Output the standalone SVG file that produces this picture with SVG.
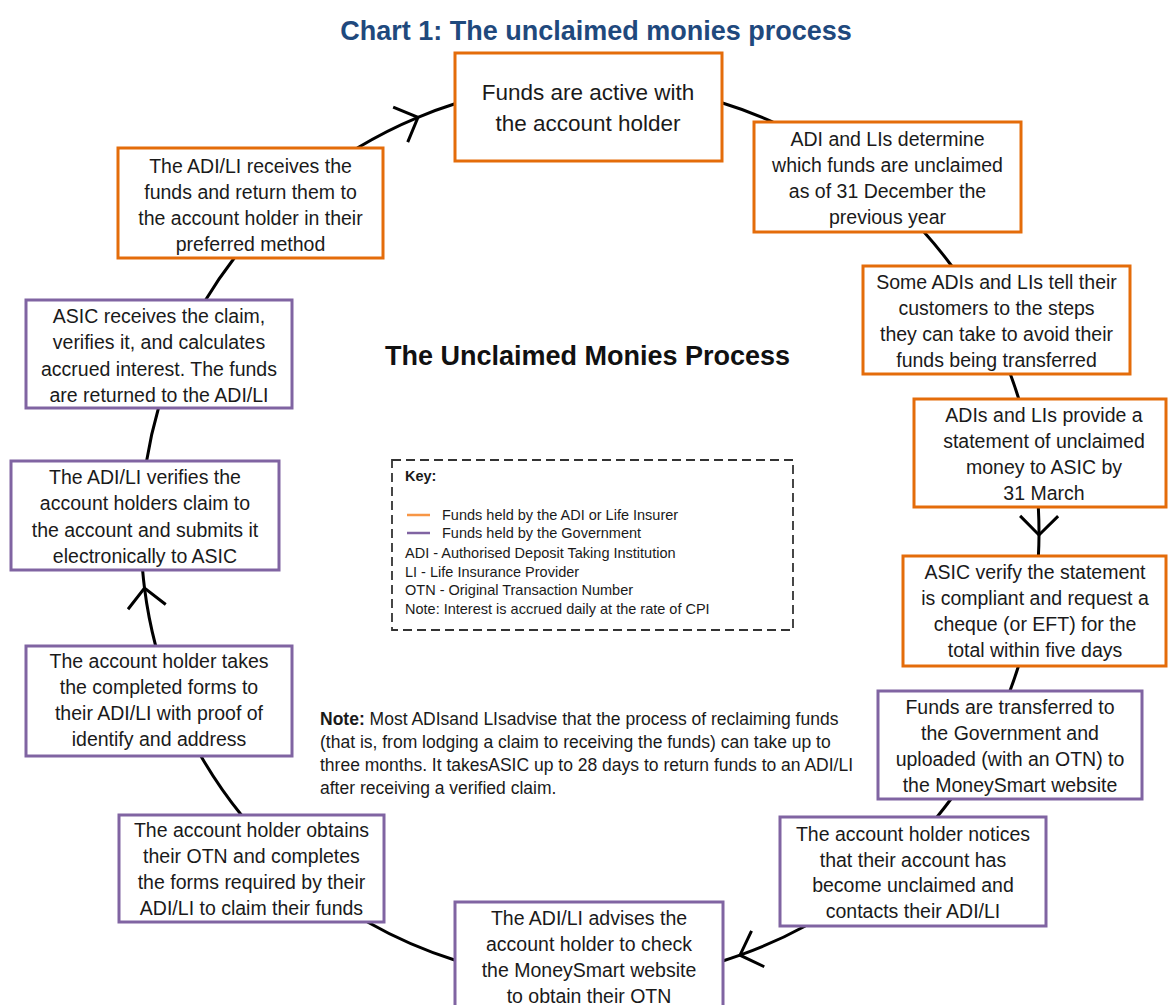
<svg xmlns="http://www.w3.org/2000/svg" width="1168" height="1005" viewBox="0 0 1168 1005">
<defs>
<style>
text{font-family:"Liberation Sans",Arial,sans-serif;fill:#1a1a1a}
.box rect{fill:#fff;stroke-width:3}
.or rect{stroke:#E46C0A}
.pu rect{stroke:#8064A2}
.box text{font-size:19.5px;text-anchor:middle}
.conn path{fill:none;stroke:#000;stroke-width:3}
.key text{font-size:14.5px}
.note text{font-size:17.5px}
</style>
<marker id="arr" markerUnits="userSpaceOnUse" markerWidth="40" markerHeight="40" viewBox="-20 -20 40 40" refX="0" refY="0" orient="auto" overflow="visible">
<path d="M-19,-19 L0,0 L-19,19" fill="none" stroke="#000" stroke-width="3"/>
</marker>
</defs>
<rect width="1168" height="1005" fill="#fff"/>
<text x="596" y="40" style="font-size:27px;font-weight:bold;fill:#1F497D" text-anchor="middle">Chart 1: The unclaimed monies process</text>
<text x="587.5" y="365" style="font-size:27px;font-weight:bold;fill:#111" text-anchor="middle">The Unclaimed Monies Process</text>

<g id="connectors" class="conn">
<path d="M721,102.5 A449,449 0 0 1 773,122"/>
<path d="M924,232 A449,449 0 0 1 951.7,266"/>
<path d="M1010.3,374 A449,449 0 0 1 1018.8,399"/>
<path d="M1038.3,507 A449,449 0 0 1 1039,535 A449,449 0 0 1 1038.4,556" marker-mid="url(#arr)"/>
<path d="M1018.5,666 A449,449 0 0 1 1009.9,691"/>
<path d="M951,799 A449,449 0 0 1 937,817"/>
<path d="M805.3,926 A449,449 0 0 1 740,955.2 A449,449 0 0 1 722,961.2" marker-mid="url(#arr)"/>
<path d="M456,960.5 A449,449 0 0 1 367.5,922"/>
<path d="M241.4,815 A449,449 0 0 1 200.9,756"/>
<path d="M155.7,646 A449,449 0 0 1 144.5,588 A449,449 0 0 1 142.6,570" marker-mid="url(#arr)"/>
<path d="M146.6,461 A449,449 0 0 1 158.5,408"/>
<path d="M205.6,300 A449,449 0 0 1 234.3,258"/>
<path d="M357.3,148 A449,449 0 0 1 418,117.3 A449,449 0 0 1 455,103.8" marker-mid="url(#arr)"/>
</g>

<g id="n1" class="box or">
<rect x="455" y="53" width="267" height="108"/>
<text style="font-size:22.5px"><tspan x="588" y="100">Funds are active with</tspan><tspan x="588" y="131">the account holder</tspan></text>
</g>
<g id="n2" class="box or">
<rect x="754" y="122" width="267" height="110"/>
<text><tspan x="887.5" y="146">ADI and LIs determine</tspan><tspan x="887.5" y="172">which funds are unclaimed</tspan><tspan x="887.5" y="198">as of 31 December the</tspan><tspan x="887.5" y="224">previous year</tspan></text>
</g>
<g id="n3" class="box or">
<rect x="863" y="266" width="267" height="108"/>
<text><tspan x="996.5" y="289">Some ADIs and LIs tell their</tspan><tspan x="996.5" y="315">customers to the steps</tspan><tspan x="996.5" y="341">they can take to avoid their</tspan><tspan x="996.5" y="367">funds being transferred</tspan></text>
</g>
<g id="n4" class="box or">
<rect x="914" y="399" width="252" height="108"/>
<text><tspan x="1044" y="422">ADIs and LIs provide a</tspan><tspan x="1044" y="448">statement of unclaimed</tspan><tspan x="1044" y="474">money to ASIC by</tspan><tspan x="1044" y="500">31 March</tspan></text>
</g>
<g id="n5" class="box or">
<rect x="903" y="556" width="263" height="110"/>
<text><tspan x="1035" y="579">ASIC verify the statement</tspan><tspan x="1035" y="605">is compliant and request a</tspan><tspan x="1035" y="631">cheque (or EFT) for the</tspan><tspan x="1035" y="657">total within five days</tspan></text>
</g>
<g id="n6" class="box pu">
<rect x="878" y="691" width="264" height="108"/>
<text><tspan x="1010" y="714">Funds are transferred to</tspan><tspan x="1010" y="740">the Government and</tspan><tspan x="1010" y="766">uploaded (with an OTN) to</tspan><tspan x="1010" y="792">the MoneySmart website</tspan></text>
</g>
<g id="n7" class="box pu">
<rect x="780" y="817" width="266" height="109"/>
<text><tspan x="913" y="841">The account holder notices</tspan><tspan x="913" y="867">that their account has</tspan><tspan x="913" y="892">become unclaimed and</tspan><tspan x="913" y="918">contacts their ADI/LI</tspan></text>
</g>
<g id="n8" class="box pu">
<rect x="455" y="902" width="268" height="112"/>
<text><tspan x="589" y="925">The ADI/LI advises the</tspan><tspan x="589" y="951">account holder to check</tspan><tspan x="589" y="977">the MoneySmart website</tspan><tspan x="589" y="1003">to obtain their OTN</tspan></text>
</g>
<g id="n9" class="box pu">
<rect x="119" y="815" width="265" height="107"/>
<text><tspan x="251.5" y="837">The account holder obtains</tspan><tspan x="251.5" y="863">their OTN and completes</tspan><tspan x="251.5" y="889">the forms required by their</tspan><tspan x="251.5" y="915">ADI/LI to claim their funds</tspan></text>
</g>
<g id="n10" class="box pu">
<rect x="26" y="646" width="266" height="110"/>
<text><tspan x="159" y="668">The account holder takes</tspan><tspan x="159" y="694">the completed forms to</tspan><tspan x="159" y="720">their ADI/LI with proof of</tspan><tspan x="159" y="746">identify and address</tspan></text>
</g>
<g id="n11" class="box pu">
<rect x="11" y="461" width="268" height="109"/>
<text><tspan x="145" y="484">The ADI/LI verifies the</tspan><tspan x="145" y="510">account holders claim to</tspan><tspan x="145" y="537">the account and submits it</tspan><tspan x="145" y="563">electronically to ASIC</tspan></text>
</g>
<g id="n12" class="box pu">
<rect x="26" y="300" width="266" height="108"/>
<text><tspan x="159" y="323">ASIC receives the claim,</tspan><tspan x="159" y="349">verifies it, and calculates</tspan><tspan x="159" y="376">accrued interest. The funds</tspan><tspan x="159" y="402">are returned to the ADI/LI</tspan></text>
</g>
<g id="n13" class="box or">
<rect x="118" y="148" width="265" height="110"/>
<text><tspan x="250.5" y="173">The ADI/LI receives the</tspan><tspan x="250.5" y="199">funds and return them to</tspan><tspan x="250.5" y="225">the account holder in their</tspan><tspan x="250.5" y="251">preferred method</tspan></text>
</g>

<g id="key" class="key">
<rect x="392" y="460" width="401" height="170" fill="none" stroke="#333" stroke-width="1.8" stroke-dasharray="9 5"/>
<text x="405" y="481" style="font-weight:bold">Key:</text>
<line x1="407" y1="515" x2="430" y2="515" stroke="#F79646" stroke-width="2.5"/>
<line x1="407" y1="533" x2="430" y2="533" stroke="#8064A2" stroke-width="2.5"/>
<text x="442" y="520">Funds held by the ADI or Life Insurer</text>
<text x="442" y="538">Funds held by the Government</text>
<text x="405" y="558">ADI - Authorised Deposit Taking Institution</text>
<text x="405" y="577">LI - Life Insurance Provider</text>
<text x="405" y="595">OTN - Original Transaction Number</text>
<text x="405" y="614">Note: Interest is accrued daily at the rate of CPI</text>
</g>

<g id="note" class="note">
<text x="320" y="725"><tspan style="font-weight:bold">Note:</tspan> Most ADIsand LIsadvise that the process of reclaiming funds</text>
<text x="320" y="748">(that is, from lodging a claim to receiving the funds) can take up to</text>
<text x="320" y="771">three months. It takesASIC up to 28 days to return funds to an ADI/LI</text>
<text x="320" y="794">after receiving a verified claim.</text>
</g>
</svg>
